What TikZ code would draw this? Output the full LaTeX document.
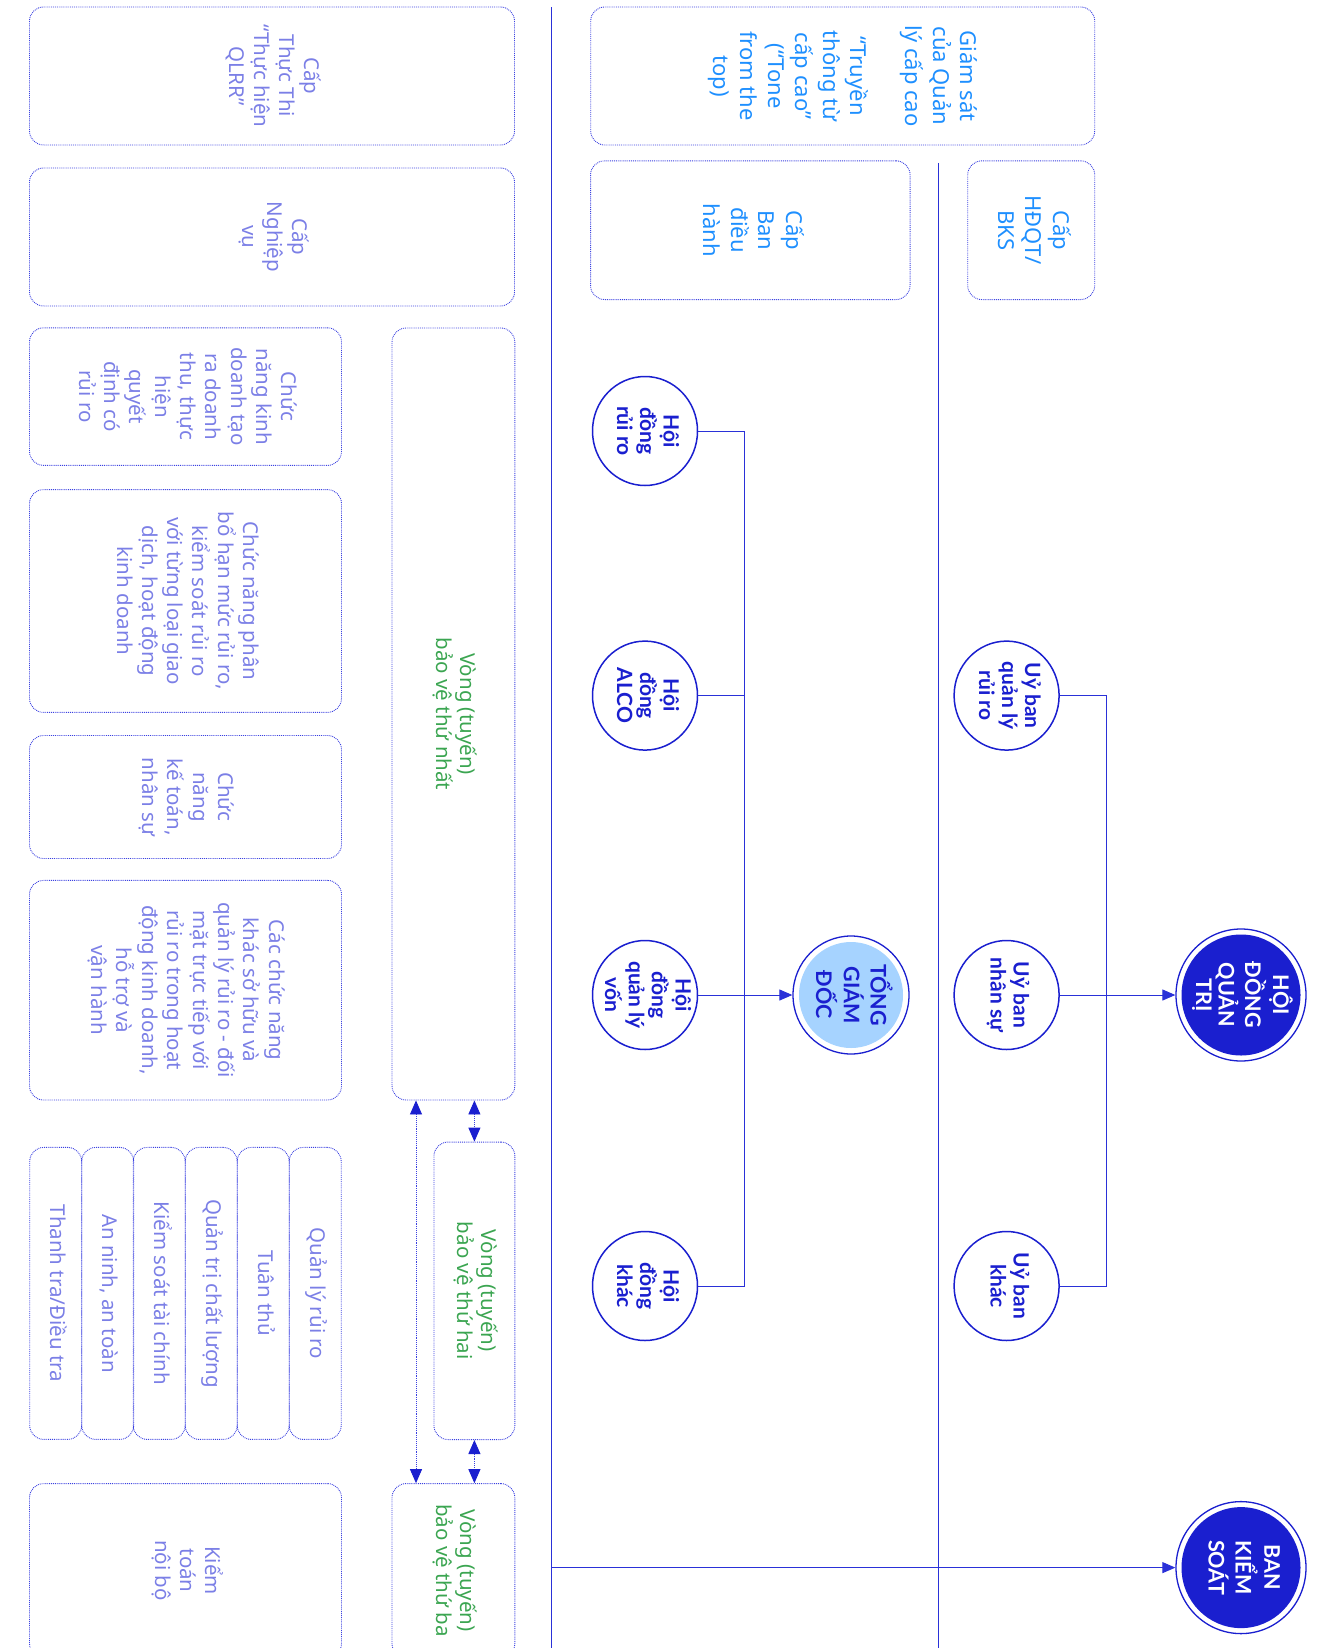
\documentclass[tikz,border=0pt]{standalone}
\usepackage{fontspec}
\setmainfont{Noto Sans}
\newfontfamily\circfont{Lato}
\usetikzlibrary{arrows.meta,shapes.geometric}

\definecolor{boxline}{HTML}{3B41E0}
\definecolor{lvltext}{HTML}{7B7FE6}
\definecolor{toptext}{HTML}{1E8FFF}
\definecolor{ringtext}{HTML}{3BA551}
\definecolor{deep}{HTML}{1A1FCF}
\definecolor{wire}{HTML}{2A31D8}
\definecolor{tgdfill}{HTML}{A6D3FF}

% vertical (clockwise) multi-line text
\newcommand{\vt}[1]{\rotatebox{-90}{\begin{tabular}{@{}c@{}}#1\end{tabular}}}

\begin{document}
\begin{tikzpicture}[x=1pt,y=-1pt,
  panel/.style={draw=boxline, densely dotted, line width=0.9pt, rounded corners=14pt, inner sep=0pt},
  lvlbox/.style={panel, text=lvltext, font=\fontsize{20.5}{25}\selectfont},
  topbox/.style={panel, text=toptext, font=\fontsize{22}{27.5}\selectfont},
  funcbox/.style={panel, text=lvltext, font=\fontsize{20.5}{25.3}\selectfont},
  ringbox/.style={panel, text=ringtext, font=\fontsize{20.5}{24}\selectfont},
  comm/.style={ellipse, draw=deep, line width=1.5pt, fill=white, inner sep=-12pt,
    minimum width=105pt, minimum height=109pt, text=deep,
    font=\circfont\bfseries\fontsize{21}{23}\selectfont},
  bigcomm/.style={ellipse, draw=deep, line width=1.3pt, fill=white, inner sep=-12pt,
    font=\circfont\bfseries\fontsize{21.5}{22.5}\selectfont},
  wireline/.style={draw=wire, line width=1pt},
  feed/.style={wireline, -{Triangle[width=11pt,length=13pt]}},
  link/.style={draw=boxline, densely dotted, line width=0.9pt,
    {Triangle[width=12pt,length=14pt,color=deep]}-{Triangle[width=12pt,length=14pt,color=deep]}},
]
\useasboundingbox (0,0) rectangle (1326,1648);
\clip (0,0) rectangle (1326,1648);

% ---- level column, left side ----
\node[lvlbox, minimum width=485pt, minimum height=138pt] (exec) at (272,76)
  {\vt{Cấp\\Thực Thi\\“Thực hiện\\QLRR”}};
\node[lvlbox, minimum width=485pt, minimum height=138pt] (ops) at (272,237)
  {\vt{Cấp\\Nghiệp\\vụ}};

% ---- level column, right side ----
\node[topbox, minimum width=504pt, minimum height=138pt] (topmgmt) at (842.7,76)
  {\vt{Giám sát\\của Quản\\lý cấp cao\\[27.5pt]“Truyền\\thông từ\\cấp cao”\\(“Tone\\from the\\top)}};
\node[topbox, minimum width=319.5pt, minimum height=138.7pt] (board) at (750.3,230.2)
  {\vt{Cấp\\Ban\\điều\\hành}};
\node[topbox, minimum width=127pt, minimum height=138.7pt] (hdqtlvl) at (1031.2,230.2)
  {\vt{Cấp\\HĐQT/\\BKS}};

% ---- functions ----
\node[funcbox, minimum width=312pt, minimum height=137.6pt] (f1) at (185.5,396.6)
  {\vt{Chức\\năng kinh\\doanh tạo\\ra doanh\\thu, thực\\hiện\\quyết\\định có\\rủi ro}};
\node[funcbox, minimum width=312pt, minimum height=222.8pt] (f2) at (185.5,601)
  {\vt{Chức năng phân\\bổ hạn mức rủi ro,\\kiểm soát rủi ro\\với từng loại giao\\dịch, hoạt động\\kinh doanh}};
\node[funcbox, minimum width=312pt, minimum height=123pt] (f3) at (185.5,797)
  {\vt{Chức\\năng\\kế toán,\\nhân sự}};
\node[funcbox, minimum width=312pt, minimum height=219.6pt] (f4) at (185.5,990.2)
  {\vt{Các chức năng\\khác sở hữu và\\quản lý rủi ro - đối\\mặt trực tiếp với\\rủi ro trong hoạt\\động kinh doanh,\\hỗ trợ và\\vận hành}};

\node[funcbox, minimum width=52pt, minimum height=292pt] (s1) at (315.2,1293.4) {\vt{Quản lý rủi ro}};
\node[funcbox, minimum width=52pt, minimum height=292pt] (s2) at (263.2,1293.4) {\vt{Tuân thủ}};
\node[funcbox, minimum width=52pt, minimum height=292pt] (s3) at (211.2,1293.4) {\vt{Quản trị chất lượng}};
\node[funcbox, minimum width=52pt, minimum height=292pt] (s4) at (159.2,1293.4) {\vt{Kiểm soát tài chính}};
\node[funcbox, minimum width=52pt, minimum height=292pt] (s5) at (107.7,1293.4) {\vt{An ninh, an toàn}};
\node[funcbox, minimum width=52pt, minimum height=292pt] (s6) at (55.7,1293.4) {\vt{Thanh tra/Điều tra}};

\node[funcbox, minimum width=312pt, minimum height=174pt] (audit) at (185.5,1570.6)
  {\vt{Kiểm\\toán\\nội bộ}};

% ---- lines of defence ----
\node[ringbox, minimum width=122.8pt, minimum height=772pt] (line1) at (453.4,714)
  {\vt{Vòng (tuyến)\\bảo vệ thứ nhất}};
\node[ringbox, minimum width=80.9pt, minimum height=297.5pt] (line2) at (474.4,1290.8)
  {\vt{Vòng (tuyến)\\bảo vệ thứ hai}};
\node[ringbox, minimum width=122.8pt, minimum height=174pt] (line3) at (453.4,1570.6)
  {\vt{Vòng (tuyến)\\bảo vệ thứ ba}};

\coordinate (skip) at (416,0);
\draw[link] (line1.south -| line2.north) -- (line2.north);
\draw[link] (line2.south) -- (line3.north -| line2.south);
\draw[link] (line1.south -| skip) -- (line3.north -| skip);

% ---- divider lines ----
\coordinate (railA) at (551.6,7.4);
\coordinate (railB) at (938.3,163);
\draw[wireline] (railA) -- (551.6,1648);
\draw[wireline, line width=0.8pt] (railB) -- (938.3,1648);

% ---- executive committees ----
\node[comm] (hdrr) at (645,431) {\vt{Hội\\đồng\\rủi ro}};
\node[comm] (alco) at (645,695.6) {\vt{Hội\\đồng\\ALCO}};
\node[comm] (qlv) at (645,995) {\vt{Hội\\đồng\\quản lý\\vốn}};
\node[comm] (hdk) at (645,1286) {\vt{Hội\\đồng\\khác}};

\node[bigcomm, minimum width=116pt, minimum height=118pt, text=deep,
  path picture={\fill[tgdfill] (path picture bounding box.center) ellipse [x radius=52pt, y radius=53pt];}]
  (tgd) at (851,995) {\vt{TỔNG\\GIÁM\\ĐỐC}};

% ---- board committees ----
\node[comm] (ubrr) at (1006.6,695.6) {\vt{Uỷ ban\\quản lý\\rủi ro}};
\node[comm] (ubns) at (1006.6,995) {\vt{Uỷ ban\\nhân sự}};
\node[comm] (ubk) at (1006.6,1286) {\vt{Uỷ ban\\khác}};

\node[bigcomm, minimum width=130pt, minimum height=132pt, text=white,
  path picture={\fill[deep] (path picture bounding box.center) ellipse [x radius=59.5pt, y radius=60.5pt];}]
  (hdqt) at (1241,995) {\vt{HỘI\\ĐỒNG\\QUẢN\\TRỊ}};
\node[bigcomm, minimum width=130pt, minimum height=132pt, text=white,
  path picture={\fill[deep] (path picture bounding box.center) ellipse [x radius=59.5pt, y radius=60.5pt];}]
  (bks) at (1241,1567.6) {\vt{BAN\\KIỂM\\SOÁT}};

% ---- connectors ----
\coordinate (busA) at (744,0);
\coordinate (busB) at (1106.4,0);
\draw[wireline] (hdrr.east) -- (hdrr.east -| busA) -- (hdk.east -| busA) -- (hdk.east);
\draw[wireline] (alco.east) -- (alco.east -| busA);
\draw[feed] (qlv.east) -- (tgd.west);

\draw[wireline] (ubrr.east) -- (ubrr.east -| busB) -- (ubk.east -| busB) -- (ubk.east);
\draw[feed] (ubns.east) -- (hdqt.west);

\draw[feed] (bks.west -| railA) -- (bks.west);
\end{tikzpicture}
\end{document}
